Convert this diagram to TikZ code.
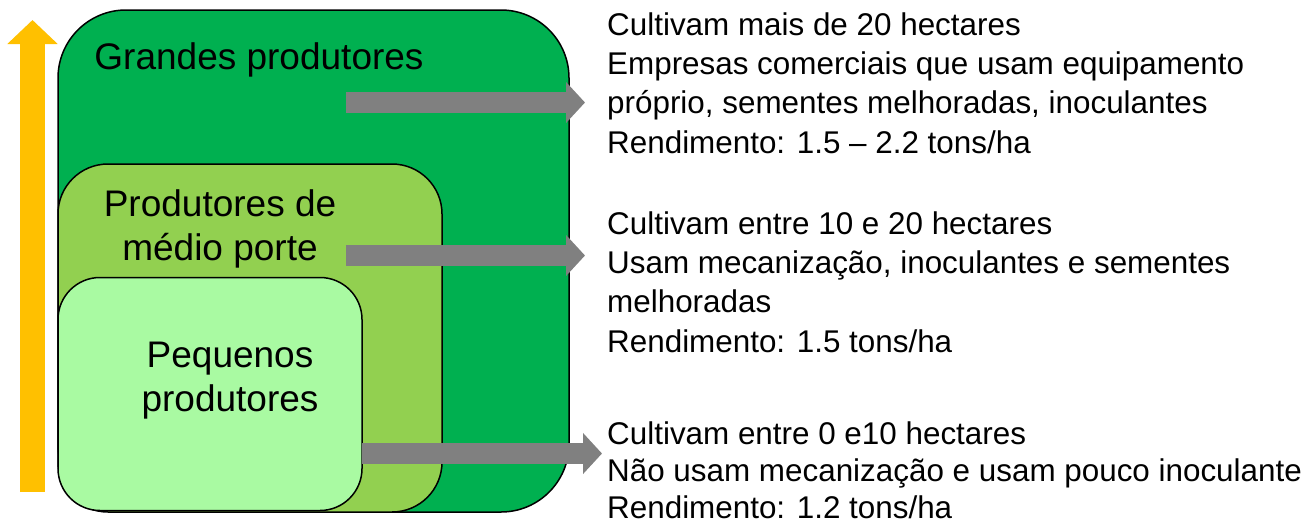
\documentclass[tikz,border=0pt]{standalone}
\usepackage{fontspec}
\setmainfont{Liberation Sans}
\usetikzlibrary{arrows.meta, positioning}
\definecolor{grandesgreen}{HTML}{00B050}
\definecolor{mediogreen}{HTML}{92D050}
\definecolor{pequenosgreen}{HTML}{A9FAA2}
\definecolor{sizeyellow}{HTML}{FFC000}
\definecolor{connectgray}{HTML}{808080}
\def\boxlinewidth{1.5pt}
\def\shaftwidth{21pt}
\def\headwidth{40pt}
\def\headlength{19pt}
\def\infox{607}
\tikzset{
	% group boxes
	groupbox/.style={
		shape=rectangle,
		draw=black,
		line width=\boxlinewidth,
		inner sep=0pt,
		outer sep=0pt,
	},
	% group names
	grouplabel/.style={
		font=\fontsize{37}{44}\selectfont,
		align=center,
		inner sep=0pt,
	},
	% details on the right
	details/.style={
		font=\fontsize{31.4}{39.3}\selectfont,
		align=left,
		inner sep=0pt,
	},
	% connections
	connection/.style={
		draw=connectgray,
		line width=\shaftwidth,
		-{Triangle[length=\headlength, width=\headwidth]},
	},
	% size arrow
	sizearrow/.style={
		draw=sizeyellow,
		line width=25pt,
		-{Triangle[length=24pt, width=49pt]},
	}
}
\begin{document}
\begin{tikzpicture}[x=1pt, y=-1pt]
	\useasboundingbox (0,0) rectangle (1314,523);
	% Size arrow
	\coordinate (size_bottom) at (32.5,492);
	\coordinate (size_top) at (32.5,20);
	\draw [
		sizearrow
	] (size_bottom) -- (size_top);

	% Groups
	\node[
		groupbox,
		fill=grandesgreen,
		minimum width=511pt,
		minimum height=502pt,
		rounded corners=68pt,
	] (grandes) at (313.5,261) {};
	%
	\node[
		groupbox,
		fill=mediogreen,
		minimum width=384pt,
		minimum height=348pt,
		rounded corners=50pt,
	] (medio) at (250,338) {};
	%
	\node[
		groupbox,
		fill=pequenosgreen,
		minimum width=304pt,
		minimum height=233pt,
		rounded corners=42pt,
	] (pequenos) at (210,394) {};

	% Group names (anchored at the last line)
	\node[
		grouplabel,
		anchor=base,
	] (grandes_label) at (259,69) {Grandes produtores};
	%
	\node[
		grouplabel,
		anchor=base,
	] (medio_label) at (220,260) {Produtores de\\médio porte};
	%
	\node[
		grouplabel,
		anchor=base,
	] (pequenos_label) at (230,411) {Pequenos\\produtores};

	% Details (anchored at the last line)
	\node[
		details,
		anchor=base west,
	] (grandes_info) at (\infox,153)
	  {Cultivam mais de 20 hectares\\
	   Empresas comerciais que usam equipamento\\
	   próprio, sementes melhoradas, inoculantes\\
	   Rendimento: 1.5 – 2.2 tons/ha};
	%
	\node[
		details,
		anchor=base west,
	] (medio_info) at (\infox,352)
	  {Cultivam entre 10 e 20 hectares\\
	   Usam mecanização, inoculantes e sementes\\
	   melhoradas\\
	   Rendimento: 1.5 tons/ha};
	%
	\node[
		details,
		font=\fontsize{31.4}{37}\selectfont,
		anchor=base west,
	] (pequenos_info) at (\infox,518)
	  {Cultivam entre 0 e10 hectares\\
	   Não usam mecanização e usam pouco inoculante\\
	   Rendimento: 1.2 tons/ha};

	% Connections
	\coordinate (grandes_out) at (346,102.5);
	\coordinate (grandes_in) at (585,102.5);
	\coordinate (medio_out) at (346,255.5);
	\coordinate (medio_in) at (585,255.5);
	\coordinate (pequenos_out) at (362,453.5);
	\coordinate (pequenos_in) at (602,453.5);
	\foreach \g in {grandes, medio, pequenos} {
		\draw [
			connection
		] (\g_out) -- (\g_in);
	}
\end{tikzpicture}
\end{document}
